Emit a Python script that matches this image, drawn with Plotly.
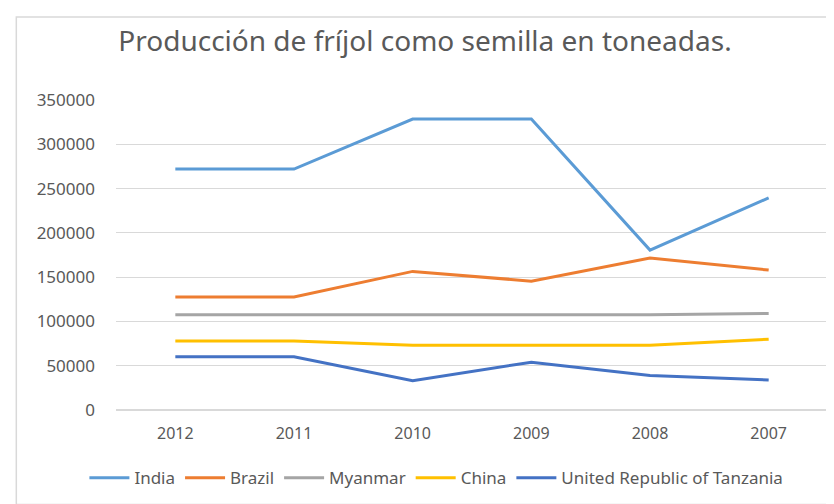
import plotly.graph_objects as go

years = ["2012", "2011", "2010", "2009", "2008", "2007"]
india = [272000, 272000, 328500, 328500, 180500, 239500]
brazil = [127500, 127500, 156500, 145500, 171500, 158000]
myanmar = [107500, 107500, 107500, 107500, 107500, 109000]
china = [78000, 78000, 73000, 73000, 73000, 80000]
tanzania = [60000, 60000, 33000, 54000, 39000, 34000]

series = [
    ("India", india, "#5B9BD5"),
    ("Brazil", brazil, "#ED7D31"),
    ("Myanmar", myanmar, "#A5A5A5"),
    ("China", china, "#FFC000"),
    ("United Republic of Tanzania", tanzania, "#4472C4"),
]

fig = go.Figure()
for name, vals, col in series:
    fig.add_trace(go.Scatter(x=years, y=vals, name=name, mode="lines",
                             line=dict(color=col, width=3)))

font_fam = "Noto Sans, Open Sans, sans-serif"
fig.update_layout(
    width=834, height=504,
    paper_bgcolor="white", plot_bgcolor="white",
    margin=dict(l=108, r=14, t=92, b=102),
    title=dict(text="Producción de fríjol como semilla en toneadas.",
               x=0.5, xanchor="center", y=0.935, yanchor="middle",
               font=dict(family=font_fam, size=28, color="#595959")),
    font=dict(family=font_fam, size=14, color="#595959"),
    xaxis=dict(type="category", range=[-0.5, 5.5], showgrid=False, showline=False,
               ticks="", ticklabelstandoff=12,
               tickfont=dict(size=16, color="#595959")),
    yaxis=dict(range=[0, 350000], dtick=50000, showgrid=True,
               gridcolor="#D9D9D9", gridwidth=1, zeroline=True,
               zerolinecolor="#D9D9D9", ticks="", tickformat="d",
               ticklabelstandoff=20, tickfont=dict(size=17, color="#595959")),
    legend=dict(orientation="h", x=0.45, xanchor="center", y=-0.22, yanchor="middle",
                font=dict(size=17, color="#595959"), itemwidth=40, tracegroupgap=0),
    showlegend=True,
)
fig.add_shape(type="rect", xref="paper", yref="paper", x0=-0.140, x1=1.0095, y0=-0.305, y1=1.268,
              line=dict(color="#D9D9D9", width=1.5))
fig.write_html("out.html")
